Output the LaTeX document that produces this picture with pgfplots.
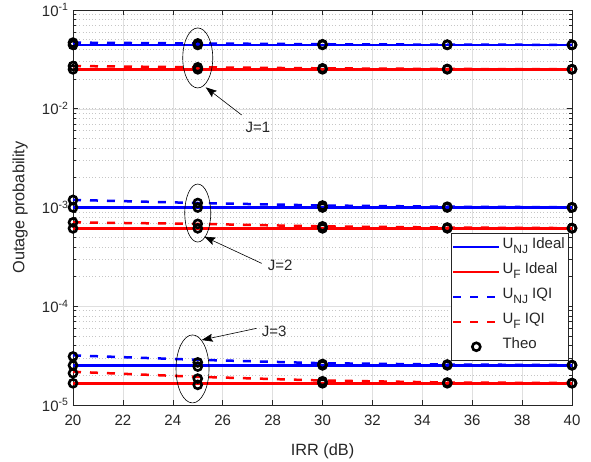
\documentclass[border=0pt]{standalone}
\usepackage{fontspec}
\setmainfont{Liberation Sans}
\usepackage{pgfplots}
\pgfplotsset{compat=1.18}
\usetikzlibrary{arrows.meta}
\definecolor{axgray}{rgb}{0.15,0.15,0.15}
\definecolor{mblue}{rgb}{0,0,1}
\definecolor{mred}{rgb}{1,0,0}
\pgfplotsset{theo legend/.style={legend image code/.code={\draw[##1] plot coordinates {(23pt,0pt)};}}}
\newcommand{\sub}[1]{\raisebox{-5pt}{\fontsize{12}{12}\selectfont #1}}
\begin{document}
\begin{tikzpicture}
\begin{axis}[
  scale only axis, width=499pt, height=395pt,
  xmin=20, xmax=40, ymin=1e-5, ymax=1e-1, ymode=log,
  xtick={20,22,...,40},
  clip=false,
  axis line style={axgray, line width=0.6pt},
  tick style={axgray, line width=0.6pt},
  major tick length=5pt, minor tick length=3pt,
  tick align=inside,
  /pgf/number format/assume math mode=true,
  tick label style={font=\fontsize{15}{17}\selectfont, text=axgray},
  xticklabel style={yshift=-6pt},
  yticklabel style={xshift=-1pt},
  yticklabel={10\textsuperscript{\pgfmathparse{int(round(\tick/ln(10)))}\pgfmathresult}},
  xmajorgrids, ymajorgrids, yminorgrids,
  major grid style={gray!25, line width=0.5pt},
  minor grid style={gray!45, line width=0.6pt, dash pattern=on 0.6pt off 2.6pt},
  xlabel={IRR (dB)}, ylabel={Outage probability},
  label style={font=\fontsize{16.3}{18}\selectfont, text=axgray},
  xlabel style={at={(axis description cs:0.5,-0.116)}, anchor=center},
  ylabel style={at={(axis description cs:-0.106,0.5)}, anchor=center},
  legend cell align=left,
  legend style={at={(rel axis cs:0.992,0.4354)}, anchor=north east,
    draw=axgray, line width=0.5pt, fill=white,
    font=\fontsize{15}{17}\selectfont, text=axgray,
    inner xsep=1pt, inner ysep=1pt, row sep=0pt,
    nodes={inner sep=2pt, text height=12.5pt, text depth=8.5pt}},
  legend image code/.code={\draw[#1] (0pt,0pt) -- (46pt,0pt);},
]
% J=1
\addplot[mblue, line width=2.5pt] coordinates {(20,0.0443) (25,0.0443) (30,0.0443) (35,0.0443) (40,0.0443)};
\addlegendentry{U\sub{NJ} Ideal}
\addplot[mred, line width=2.5pt] coordinates {(20,0.02508) (25,0.02508) (30,0.02508) (35,0.02508) (40,0.02508)};
\addlegendentry{U\sub{F} Ideal}
\addplot[mblue, line width=2.5pt, dash pattern=on 8pt off 9pt] coordinates {(20,0.04674) (25,0.04588) (30,0.04503) (35,0.04461) (40,0.0444)};
\addlegendentry{U\sub{NJ} IQI}
\addplot[mred, line width=2.5pt, dash pattern=on 8pt off 9pt] coordinates {(20,0.02709) (25,0.02628) (30,0.02567) (35,0.02532) (40,0.02514)};
\addlegendentry{U\sub{F} IQI}
% J=2
\addplot[mblue, line width=2.5pt, forget plot] coordinates {(20,1.0e-3) (25,1.0e-3) (30,1.0e-3) (35,1.0e-3) (40,1.0e-3)};
\addplot[mred, line width=2.5pt, forget plot] coordinates {(20,6.15e-4) (25,6.15e-4) (30,6.15e-4) (35,6.15e-4) (40,6.15e-4)};
\addplot[mblue, line width=2.5pt, dash pattern=on 8pt off 9pt, forget plot] coordinates {(20,1.194e-3) (25,1.111e-3) (30,1.048e-3) (35,1.019e-3) (40,1.007e-3)};
\addplot[mred, line width=2.5pt, dash pattern=on 8pt off 9pt, forget plot] coordinates {(20,7.07e-4) (25,6.83e-4) (30,6.44e-4) (35,6.27e-4) (40,6.19e-4)};
% J=3
\addplot[mblue, line width=2.5pt, forget plot] coordinates {(20,2.52e-5) (25,2.52e-5) (30,2.52e-5) (35,2.52e-5) (40,2.52e-5)};
\addplot[mred, line width=2.5pt, forget plot] coordinates {(20,1.66e-5) (25,1.66e-5) (30,1.66e-5) (35,1.66e-5) (40,1.66e-5)};
\addplot[mblue, line width=2.5pt, dash pattern=on 8pt off 9pt, forget plot] coordinates {(20,3.18e-5) (25,2.87e-5) (30,2.65e-5) (35,2.57e-5) (40,2.54e-5)};
\addplot[mred, line width=2.5pt, dash pattern=on 8pt off 9pt, forget plot] coordinates {(20,2.17e-5) (25,1.93e-5) (30,1.77e-5) (35,1.69e-5) (40,1.67e-5)};
% Theo
\addplot[only marks, mark=o, mark size=4pt, black, line width=2.6pt, theo legend]
 coordinates {
 (20,0.0443) (25,0.0443) (30,0.0443) (35,0.0443) (40,0.0443)
 (20,0.02508) (25,0.02508) (30,0.02508) (35,0.02508) (40,0.02508)
 (20,0.04674) (25,0.04588) (30,0.04503) (35,0.04461) (40,0.0444)
 (20,0.02709) (25,0.02628) (30,0.02567) (35,0.02532) (40,0.02514)
 (20,1.0e-3) (25,1.0e-3) (30,1.0e-3) (35,1.0e-3) (40,1.0e-3)
 (20,6.15e-4) (25,6.15e-4) (30,6.15e-4) (35,6.15e-4) (40,6.15e-4)
 (20,1.194e-3) (25,1.111e-3) (30,1.048e-3) (35,1.019e-3) (40,1.007e-3)
 (20,7.07e-4) (25,6.83e-4) (30,6.44e-4) (35,6.27e-4) (40,6.19e-4)
 (20,2.52e-5) (25,2.45e-5) (30,2.52e-5) (35,2.52e-5) (40,2.52e-5)
 (20,1.66e-5) (25,1.60e-5) (30,1.66e-5) (35,1.66e-5) (40,1.66e-5)
 (20,3.10e-5) (25,2.70e-5) (30,2.60e-5) (35,2.57e-5) (40,2.54e-5)
 (20,2.10e-5) (25,1.85e-5) (30,1.74e-5) (35,1.69e-5) (40,1.67e-5)
 };
\addlegendentry{Theo}
% annotations
\draw[black, line width=0.6pt] (axis cs:25,0.0327) ellipse [x radius=15pt, y radius=30pt];
\draw[black, line width=0.6pt] (axis cs:25,8.79e-4) ellipse [x radius=13pt, y radius=29pt];
\draw[black, line width=0.6pt] (axis cs:24.79,2.32e-5) ellipse [x radius=16.5pt, y radius=34pt];
\draw[black, line width=0.6pt, -{Stealth[length=11pt, width=8pt, inset=2pt]}] (axis cs:26.76,8.65e-3) -- (axis cs:25.32,0.01648);
\draw[black, line width=0.6pt, -{Stealth[length=11pt, width=8pt, inset=2pt]}] (axis cs:27.56,2.72e-4) -- (axis cs:25.26,5.07e-4);
\draw[black, line width=0.6pt, -{Stealth[length=11pt, width=8pt, inset=2pt]}] (axis cs:27.36,5.98e-5) -- (axis cs:25.16,4.55e-5);
\node[font=\fontsize{15}{17}\selectfont, text=axgray, anchor=center] at (axis cs:27.41,6.53e-3) {J=1};
\node[font=\fontsize{15}{17}\selectfont, text=axgray, anchor=center] at (axis cs:28.30,2.62e-4) {J=2};
\node[font=\fontsize{15}{17}\selectfont, text=axgray, anchor=center] at (axis cs:28.06,5.61e-5) {J=3};
\end{axis}
\path (-73pt,-55pt) rectangle (518pt,405pt);
\end{tikzpicture}
\end{document}
